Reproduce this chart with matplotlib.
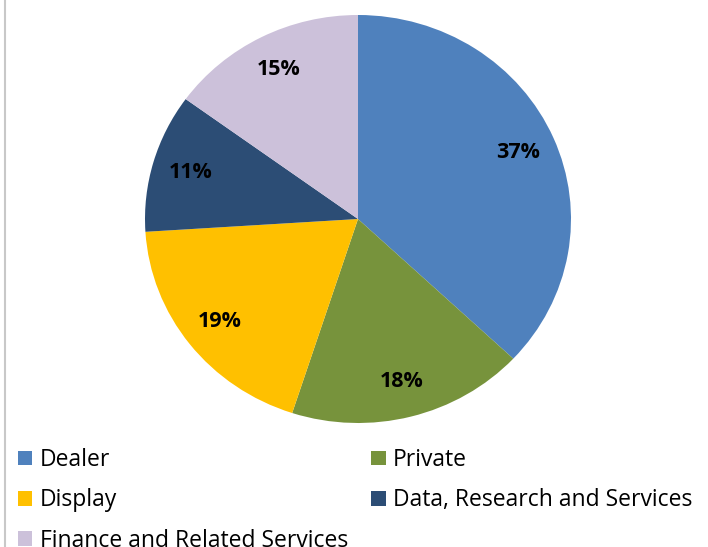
import matplotlib.pyplot as plt
from matplotlib.lines import Line2D
from matplotlib.patches import Patch

plt.rcParams['font.family'] = ['Open Sans', 'DejaVu Sans']

# segments, clockwise from 12 o'clock
labels = ['Dealer', 'Private', 'Display', 'Data, Research and Services',
          'Finance and Related Services']
shares = [37, 18, 19, 11, 15]
colors = ['#4F81BD', '#77933C', '#FFC000', '#2C4D75', '#CCC1DA']

W, H = 708, 547
fig = plt.figure(figsize=(W / 100, H / 100), dpi=100)

# pie area is slightly squashed: x 145..571, y 15..423 px
ax = fig.add_axes([145 / W, (H - 423) / H, 426 / W, 408 / H])
wedges, texts = ax.pie(shares, colors=colors, startangle=90, counterclock=False,
                       labels=[f'{v}%' for v in shares], labeldistance=0.82,
                       radius=1.0)
for t in texts:
    t.set_fontsize(15.5)
    t.set_fontweight('bold')
    t.set_ha('center')
    t.set_va('center')
ax.set_xlim(-1, 1)
ax.set_ylim(-1, 1)
ax.set_aspect('auto')
ax.axis('off')

# thin grey frame line on the left
fig.add_artist(Line2D([5 / W, 5 / W], [0, 1], color='#c8c8c8', lw=1.5))

# legend in two columns, filled row by row
order = [0, 2, 4, 1, 3]
handles = [Patch(facecolor=colors[i], edgecolor='none') for i in order]
leg = fig.legend(handles, [labels[i] for i in order], ncol=2,
                 loc='upper left', bbox_to_anchor=(18 / W, (H - 448) / H),
                 frameon=False, fontsize=16.5, borderpad=0, borderaxespad=0,
                 handlelength=0.62, handleheight=0.62, handletextpad=0.32,
                 labelspacing=0.71, columnspacing=1.03)

fig.savefig('out.png', dpi=100)
